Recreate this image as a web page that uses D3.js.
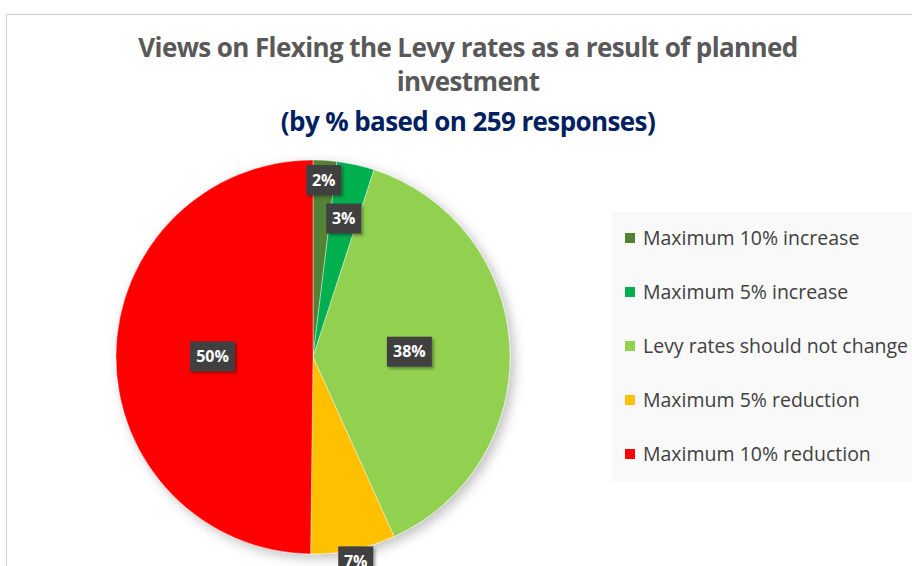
<!DOCTYPE html>
<html>
<head>
<meta charset="utf-8">
<script src="https://cdn.jsdelivr.net/npm/d3@7"></script>
<style>
  body { margin: 0; background: #fff; }
  svg { display: block; }
  text { font-family: "Open Sans", "Noto Sans", sans-serif; }
</style>
</head>
<body>
<div id="chart"></div>
<script>
// slice data, clockwise from 12 o'clock
const categories = ["Maximum 10% increase", "Maximum 5% increase", "Levy rates should not change",
                    "Maximum 5% reduction", "Maximum 10% reduction"];
const counts = [5, 8, 99, 18, 129];   // of 259 responses
const colors = ["#548235", "#00b050", "#92d050", "#ffc000", "#ff0000"];
// where Excel's "best fit" put each data label, as fraction of radius
const labelRadius = [0.9, 0.72, 0.49, 1.06, 0.51];

const titleLines = ["Views on Flexing the Levy rates as a result of planned", "investment"];
const subtitle = "(by % based on 259 responses)";

const width = 912, height = 566;
const cx = 313, cy = 357, radius = 197;

const svg = d3.select("#chart").append("svg")
    .attr("width", width)
    .attr("height", height);

const defs = svg.append("defs");
const pieShadow = defs.append("filter").attr("id", "pieShadow")
    .attr("x", "-20%").attr("y", "-20%").attr("width", "140%").attr("height", "140%");
pieShadow.append("feDropShadow")
    .attr("dx", 4).attr("dy", 4).attr("stdDeviation", 6)
    .attr("flood-color", "#000").attr("flood-opacity", 0.25);
const boxShadow = defs.append("filter").attr("id", "boxShadow")
    .attr("x", "-30%").attr("y", "-30%").attr("width", "160%").attr("height", "160%");
boxShadow.append("feDropShadow")
    .attr("dx", 2).attr("dy", 2).attr("stdDeviation", 1.5)
    .attr("flood-color", "#000").attr("flood-opacity", 0.35);

// chart frame
svg.append("path")
    .attr("d", "M6.5," + height + "V14.5H" + width)
    .attr("fill", "none")
    .attr("stroke", "#d0d0d0")
    .attr("stroke-width", 1);

// titles
const title = svg.append("g")
    .attr("text-anchor", "middle")
    .attr("font-weight", "bold");
title.selectAll("text.t")
    .data(titleLines)
  .enter().append("text")
    .attr("class", "t")
    .attr("x", 468)
    .attr("y", (d, i) => 57 + i * 34)
    .attr("font-size", 26)
    .attr("fill", "#595959")
    .attr("letter-spacing", -0.6)
    .text(d => d);
title.append("text")
    .attr("x", 468)
    .attr("y", 131)
    .attr("font-size", 26)
    .attr("fill", "#002060")
    .attr("letter-spacing", -0.6)
    .text(subtitle);

const total = d3.sum(counts);
const pie = d3.pie().sort(null).value(d => d);
const arcs = pie(counts);
const arc = d3.arc().innerRadius(0).outerRadius(radius);

const g = svg.append("g")
    .attr("transform", "translate(" + cx + "," + cy + ")");

g.append("g")
    .attr("filter", "url(#pieShadow)")
  .selectAll("path")
    .data(arcs)
  .enter().append("path")
    .attr("d", arc)
    .attr("fill", (d, i) => colors[i])
    .attr("stroke", "#fff")
    .attr("stroke-width", 0.4);

// data labels
const fmt = v => Math.round(v / total * 100) + "%";
const labels = g.selectAll("g.lbl")
    .data(arcs)
  .enter().append("g")
    .attr("class", "lbl")
    .attr("transform", (d, i) => {
      const r = radius * labelRadius[i];
      const a = (d.startAngle + d.endAngle) / 2;
      return "translate(" + (r * Math.sin(a)) + "," + (-r * Math.cos(a)) + ")";
    });
labels.each(function(d) {
  const s = d3.select(this);
  const txt = fmt(d.value);
  const w = txt.length === 2 ? 35 : 45;
  s.append("rect")
      .attr("x", -w / 2).attr("y", -15)
      .attr("width", w).attr("height", 30)
      .attr("fill", "#404040")
      .attr("filter", "url(#boxShadow)");
  s.append("text")
      .attr("text-anchor", "middle")
      .attr("dy", "0.36em")
      .attr("font-size", 16)
      .attr("font-weight", "bold")
      .attr("fill", "#fff")
      .text(txt);
});

// legend
const legend = svg.append("g")
    .attr("transform", "translate(612,212)");
legend.append("rect")
    .attr("width", 300).attr("height", 270)
    .attr("fill", "#f9f9f9");
const items = legend.selectAll("g.item")
    .data(categories)
  .enter().append("g")
    .attr("class", "item")
    .attr("transform", (d, i) => "translate(13," + (26 + i * 54) + ")");
items.append("rect")
    .attr("x", 0).attr("y", -5)
    .attr("width", 10).attr("height", 10)
    .attr("fill", (d, i) => colors[i]);
items.append("text")
    .attr("x", 18)
    .attr("dy", "0.35em")
    .attr("font-size", 19.5)
    .attr("fill", "#404040")
    .text(d => d);
</script>
</body>
</html>
